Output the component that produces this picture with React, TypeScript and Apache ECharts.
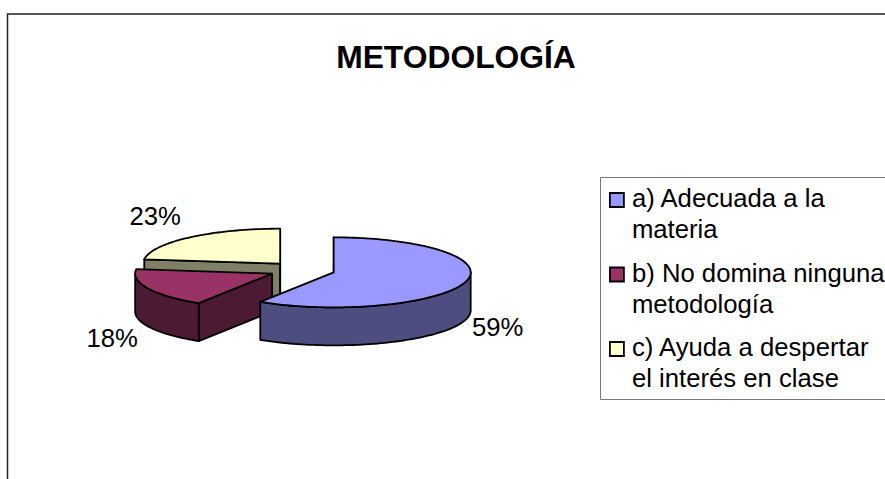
import React, { useEffect, useRef } from "react";
import * as echarts from "echarts";

const titleText = "METODOLOGÍA";
const categories = ["a) Adecuada a la\nmateria", "b) No domina ninguna\nmetodología", "c) Ayuda a despertar\nel interés en clase"];
const values = [59, 18, 23];
const topColors = ["#9999FF", "#993366", "#FFFFCC"];
const sideColors = ["#4D4D80", "#4D1A33", "#808066"];
const labelOffsets = [[164, 55], [-160, 64], [-125, -48]];
const FONT = '"Liberation Sans", Arial, sans-serif';

const CX = 302, CY = 270, RX = 137, RY = 35, DEPTH = 38, EXPLODE = 33;
const total = values.reduce((a, b) => a + b, 0);

function ang(i: number) {
  let s = 0;
  for (let k = 0; k < i; k++) s += values[k];
  return (s / total) * Math.PI * 2;
}

function pt(cx: number, cy: number, t: number, d = 0): number[] {
  return [cx + RX * Math.sin(t), cy - RY * Math.cos(t) + d];
}

function arc(cx: number, cy: number, a: number, b: number, d = 0): number[][] {
  const n = Math.max(2, Math.ceil(Math.abs(b - a) / 0.03));
  const out: number[][] = [];
  for (let i = 0; i <= n; i++) out.push(pt(cx, cy, a + ((b - a) * i) / n, d));
  return out;
}

function renderSlice(idx: number) {
  const a = ang(idx);
  const b = ang(idx + 1);
  const mid = (a + b) / 2;
  const cx = CX + EXPLODE * Math.sin(mid);
  const cy = CY - EXPLODE * (RY / RX) * Math.cos(mid);
  const stroke = { stroke: "#000", lineWidth: 1.8, lineJoin: "round" };
  const children: any[] = [];
  const face = (t: number) => {
    const p = pt(cx, cy, t);
    children.push({
      type: "polygon",
      shape: { points: [[cx, cy], p, [p[0], p[1] + DEPTH], [cx, cy + DEPTH]] },
      style: { fill: sideColors[idx], ...stroke },
    });
  };
  if (Math.sin(a) <= 1e-6) face(a);
  if (Math.sin(b) >= -1e-6) face(b);
  const ws = Math.max(a, Math.PI / 2);
  const we = Math.min(b, (Math.PI * 3) / 2);
  if (we > ws) {
    const upper = arc(cx, cy, ws, we);
    const lower = arc(cx, cy, we, ws, DEPTH);
    children.push({
      type: "polygon",
      shape: { points: [...upper, ...lower] },
      style: { fill: sideColors[idx], ...stroke },
    });
  }
  children.push({
    type: "polygon",
    shape: { points: [[cx, cy], ...arc(cx, cy, a, b)] },
    style: { fill: topColors[idx], ...stroke },
  });
  children.push({
    type: "text",
    x: cx + labelOffsets[idx][0],
    y: cy + labelOffsets[idx][1],
    style: {
      text: `${values[idx]}%`,
      fill: "#000",
      font: `25.7px ${FONT}`,
      align: "center",
      verticalAlign: "middle",
    },
  });
  return { type: "group", children };
}

export default function App() {
  const ref = useRef<HTMLDivElement>(null);
  useEffect(() => {
    const chart = echarts.init(ref.current!, undefined, { renderer: "svg" });
    chart.setOption({
      animation: false,
      backgroundColor: "#fff",
      title: {
        text: titleText,
        left: 451,
        top: 36,
        textAlign: "center",
        textStyle: { fontFamily: FONT, fontSize: 31.8, fontWeight: "bold", color: "#000" },
      },
      legend: {
        orient: "vertical",
        left: 609,
        top: 185,
        padding: 0,
        itemGap: 17.5,
        itemWidth: 14,
        itemHeight: 14,
        icon: "rect",
        selectedMode: false,
        data: categories,
        formatter: (name: string) =>
          name
            .split("\n")
            .map((l) => `{t|${l}}`)
            .join("\n"),
        itemStyle: { borderColor: "#000", borderWidth: 1.8 },
        textStyle: {
          color: "#000",
          padding: [27, 0, 0, 3],
          rich: {
            t: { fontFamily: FONT, fontSize: 25.7, lineHeight: 31, color: "#000" },
          },
        },
      },
      graphic: [
        {
          type: "rect",
          silent: true,
          shape: { x: 7.5, y: 14, width: 1000, height: 1000 },
          style: { fill: "#fff", stroke: "#222", lineWidth: 1.5 },
        },
        {
          type: "rect",
          silent: true,
          shape: { x: 600.5, y: 177.5, width: 400, height: 222 },
          style: { fill: "#fff", stroke: "#777", lineWidth: 1 },
        },
      ],
      series: [2, 1, 0].map((i) => ({
        type: "custom",
        coordinateSystem: "none",
        name: categories[i],
        data: [values[i]],
        itemStyle: { color: topColors[i] },
        renderItem: () => renderSlice(i),
      })),
    });
    return () => chart.dispose();
  }, []);
  return <div ref={ref} style={{ position: "fixed", left: 0, top: 0, width: 885, height: 479 }} />;
}
